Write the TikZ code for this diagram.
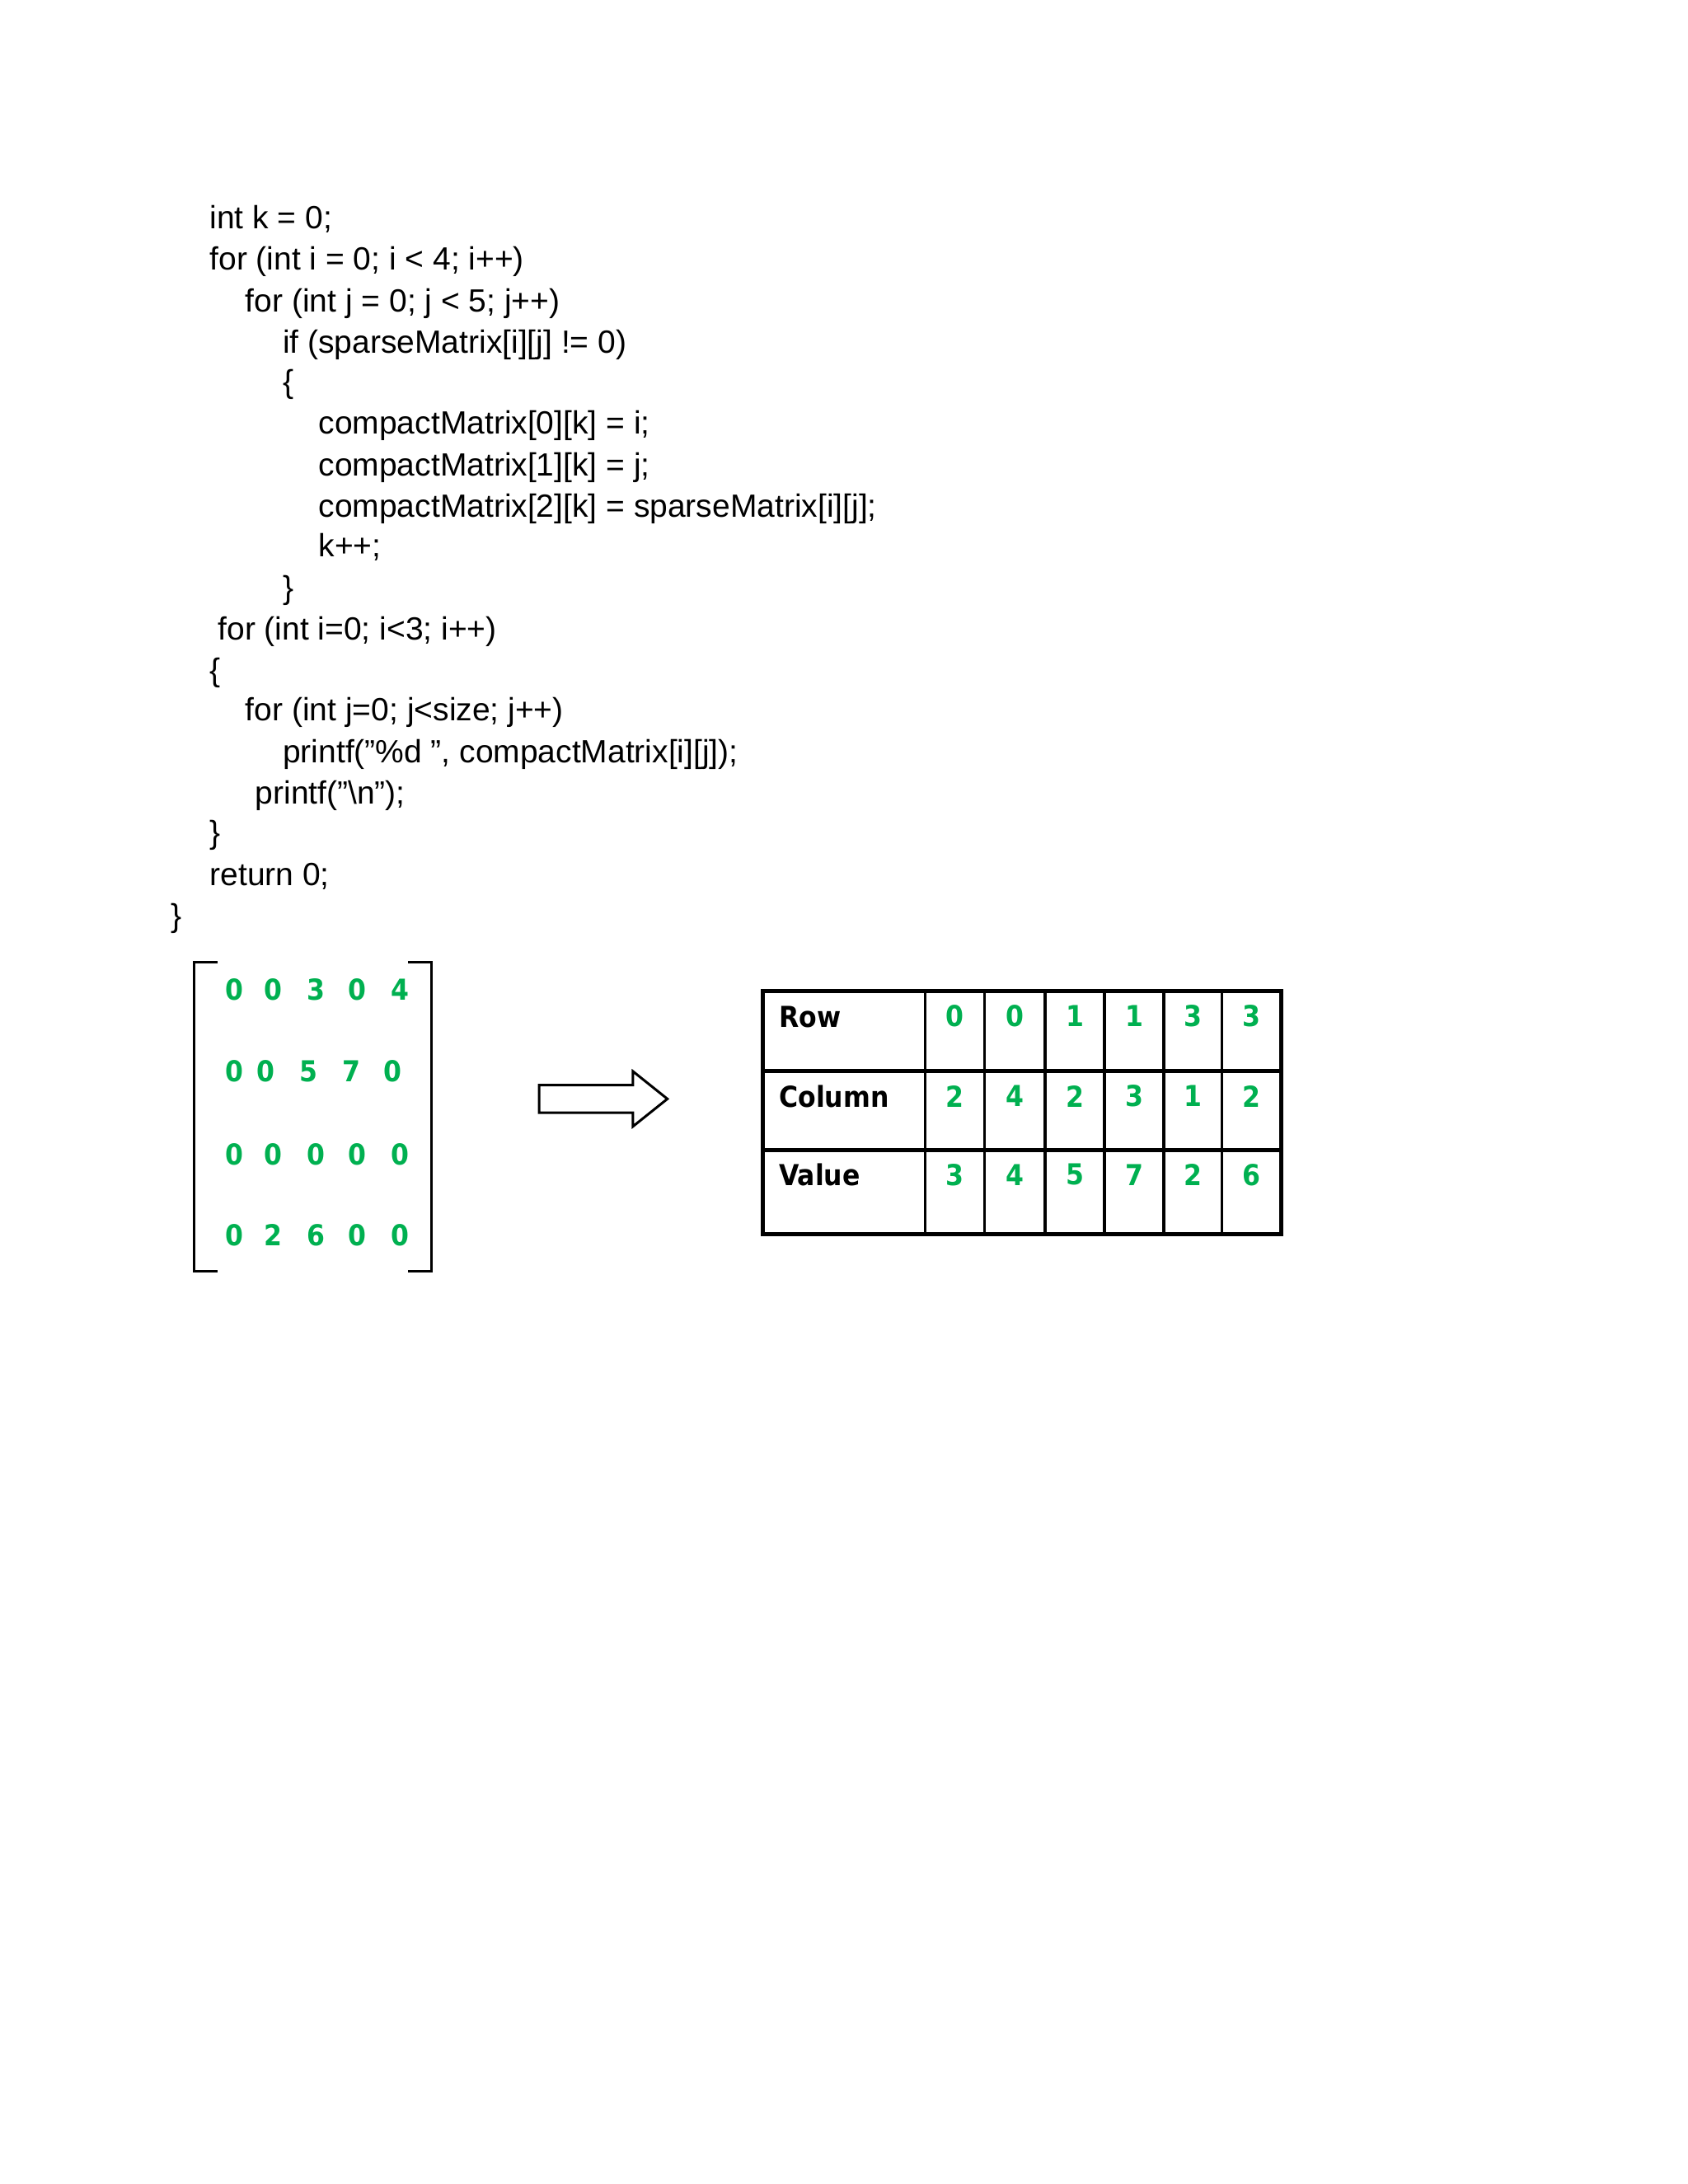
\documentclass[tikz,border=0pt]{standalone}
\usepackage{fontspec}
\setmainfont{Liberation Sans}[Ligatures=ResetAll]
\newfontfamily\digf{DejaVu Sans Condensed}
\definecolor{gr}{RGB}{0,176,80}
\begin{document}
\begin{tikzpicture}[x=1.6733pt,y=-1.6733pt,
  code/.style={anchor=base west,inner sep=0pt,font=\fontsize{39}{46}\selectfont},
  dig/.style={inner sep=0pt,text=gr,font=\digf\bfseries\fontsize{35}{40}\selectfont},
  lab/.style={anchor=base west,inner sep=0pt,font=\digf\bfseries\fontsize{35}{40}\selectfont},
  thick5/.style={line width=5pt}]
\useasboundingbox (0,0) rectangle (1224,1584);
\node[code] (c1) at (152,166) {int k = 0;};
\node[code] (c2) at (152,196) {for (int i = 0; i < 4; i++)};
\node[code] (c3) at (178,226) {for (int j = 0; j < 5; j++)};
\node[code] (c4) at (205,256) {if (sparseMatrix[i][j] != 0)};
\node[code] (c5) at (205,285) {\{};
\node[code] (c6) at (231,315) {compactMatrix[0][k] = i;};
\node[code] (c7) at (231,345) {compactMatrix[1][k] = j;};
\node[code] (c8) at (231,375) {compactMatrix[2][k] = sparseMatrix[i][j];};
\node[code] (c9) at (231,404) {k++;};
\node[code] (c10) at (205,434) {\}};
\node[code] (c11) at (158,464) {for (int i=0; i<3; i++)};
\node[code] (c12) at (152,494) {\{};
\node[code] (c13) at (178,523) {for (int j=0; j<size; j++)};
\node[code] (c14) at (205,553) {printf("\%d ", compactMatrix[i][j]);};
\node[code] (c15) at (185,583) {printf("\textbackslash n");};
\node[code] (c16) at (152,612) {\}};
\node[code] (c17) at (152,642) {return 0;};
\node[code] (c18) at (124,672) {\}};
% matrix brackets
\draw[line width=3pt] (158,698) -- (141,698) -- (141,922) -- (158,922);
\draw[line width=3pt] (296,698) -- (313,698) -- (313,922) -- (296,922);
\foreach \v [count=\i] in {0,0,3,0,4} {\path (\ifcase\i\or170\or198\or229\or259\or290\fi,718) node[dig] (ma\i) {\v};}
\foreach \v [count=\i] in {0,0,5,7,0} {\path (\ifcase\i\or170\or193\or224\or255\or285\fi,777) node[dig] (mb\i) {\v};}
\foreach \v [count=\i] in {0,0,0,0,0} {\path (\ifcase\i\or170\or198\or229\or259\or290\fi,837) node[dig] (mc\i) {\v};}
\foreach \v [count=\i] in {0,2,6,0,0} {\path (\ifcase\i\or170\or198\or229\or259\or290\fi,896) node[dig] (md\i) {\v};}
% arrow
\draw[line width=3pt,line join=miter] (391,787) -- (459,787) -- (459,777) -- (484,797) -- (459,817) -- (459,807) -- (391,807) -- cycle;
% table
\draw[thick5] (553,719) rectangle (929,895);
\draw[thick5] (553,777) -- (929,777) (553,834) -- (929,834);
\foreach \x in {671,714,758,801,844,886} \draw[line width=3.5pt] (\x,719) -- (\x,895);
\node[lab] (r) at (565,745) {Row};
\node[lab] (cl) at (565,803) {Column};
\node[lab] (vl) at (565,860) {Value};
\foreach \v [count=\i] in {0,0,1,1,3,3} {\path ({\ifcase\i\or692.5\or736\or779.5\or822.5\or865\or907.5\fi},737) node[dig] (ra\i) {\v};}
\foreach \v [count=\i] in {2,4,2,3,1,2} {\path ({\ifcase\i\or692.5\or736\or779.5\or822.5\or865\or907.5\fi},795) node[dig] (rb\i) {\v};}
\foreach \v [count=\i] in {3,4,5,7,2,6} {\path ({\ifcase\i\or692.5\or736\or779.5\or822.5\or865\or907.5\fi},852) node[dig] (rc\i) {\v};}
\end{tikzpicture}
\end{document}
